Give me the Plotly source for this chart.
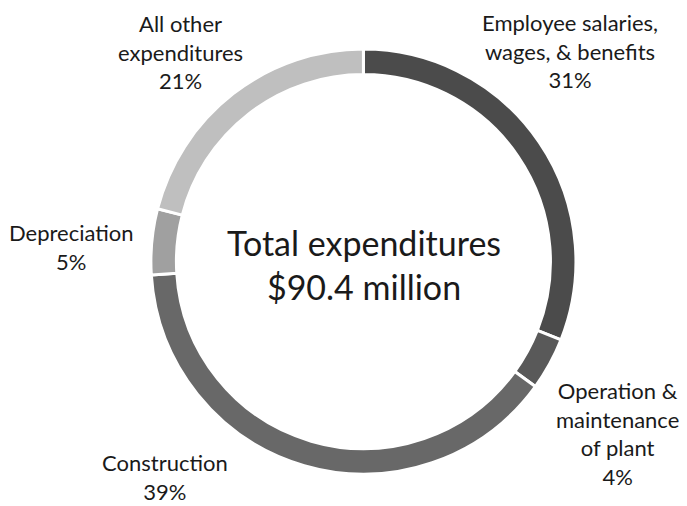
import plotly.graph_objects as go

categories = [
    "Employee salaries, wages, & benefits",
    "Operation & maintenance of plant",
    "Construction",
    "Depreciation",
    "All other expenditures",
]
shares = [31, 4, 39, 5, 21]
colors = ["#4b4b4b", "#595959", "#686868", "#a0a0a0", "#bfbfbf"]

label_texts = [
    "Employee salaries,<br>wages, & benefits<br>31%",
    "Operation &<br>maintenance<br>of plant<br>4%",
    "Construction<br>39%",
    "Depreciation<br>5%",
    "All other<br>expenditures<br>21%",
]
center_text = "Total expenditures<br>$90.4 million"

W, H = 687, 506
font = "Lato, Carlito, Calibri, sans-serif"

fig = go.Figure(
    go.Pie(
        labels=categories,
        values=shares,
        hole=0.88,
        sort=False,
        direction="clockwise",
        rotation=0,
        marker=dict(colors=colors, line=dict(color="white", width=3)),
        textinfo="none",
        hoverinfo="label+percent",
        showlegend=False,
        domain=dict(x=[0.219, 0.839], y=[0.063, 0.903]),
    )
)

# label anchor points in pixels (centre of each text block)
label_pos = [(570, 51), (617, 433), (165, 477), (71, 247), (180, 52)]
annotations = []
for txt, (px_, py_) in zip(label_texts, label_pos):
    annotations.append(dict(
        text=txt, x=px_ / W, y=1 - py_ / H, xref="paper", yref="paper",
        showarrow=False, align="center", xanchor="center", yanchor="middle",
        font=dict(family=font, size=22, color="#1a1a1a"),
    ))
annotations.append(dict(
    text=center_text, x=363.5 / W, y=1 - 264 / H, xref="paper", yref="paper",
    showarrow=False, align="center", xanchor="center", yanchor="middle",
    font=dict(family=font, size=34, color="#1a1a1a"),
))

fig.update_layout(
    width=W, height=H,
    margin=dict(l=0, r=0, t=0, b=0),
    paper_bgcolor="white",
    annotations=annotations,
)
fig.write_html("out.html", config={"displayModeBar": False},
               post_script="document.body.style.margin='0px';")
